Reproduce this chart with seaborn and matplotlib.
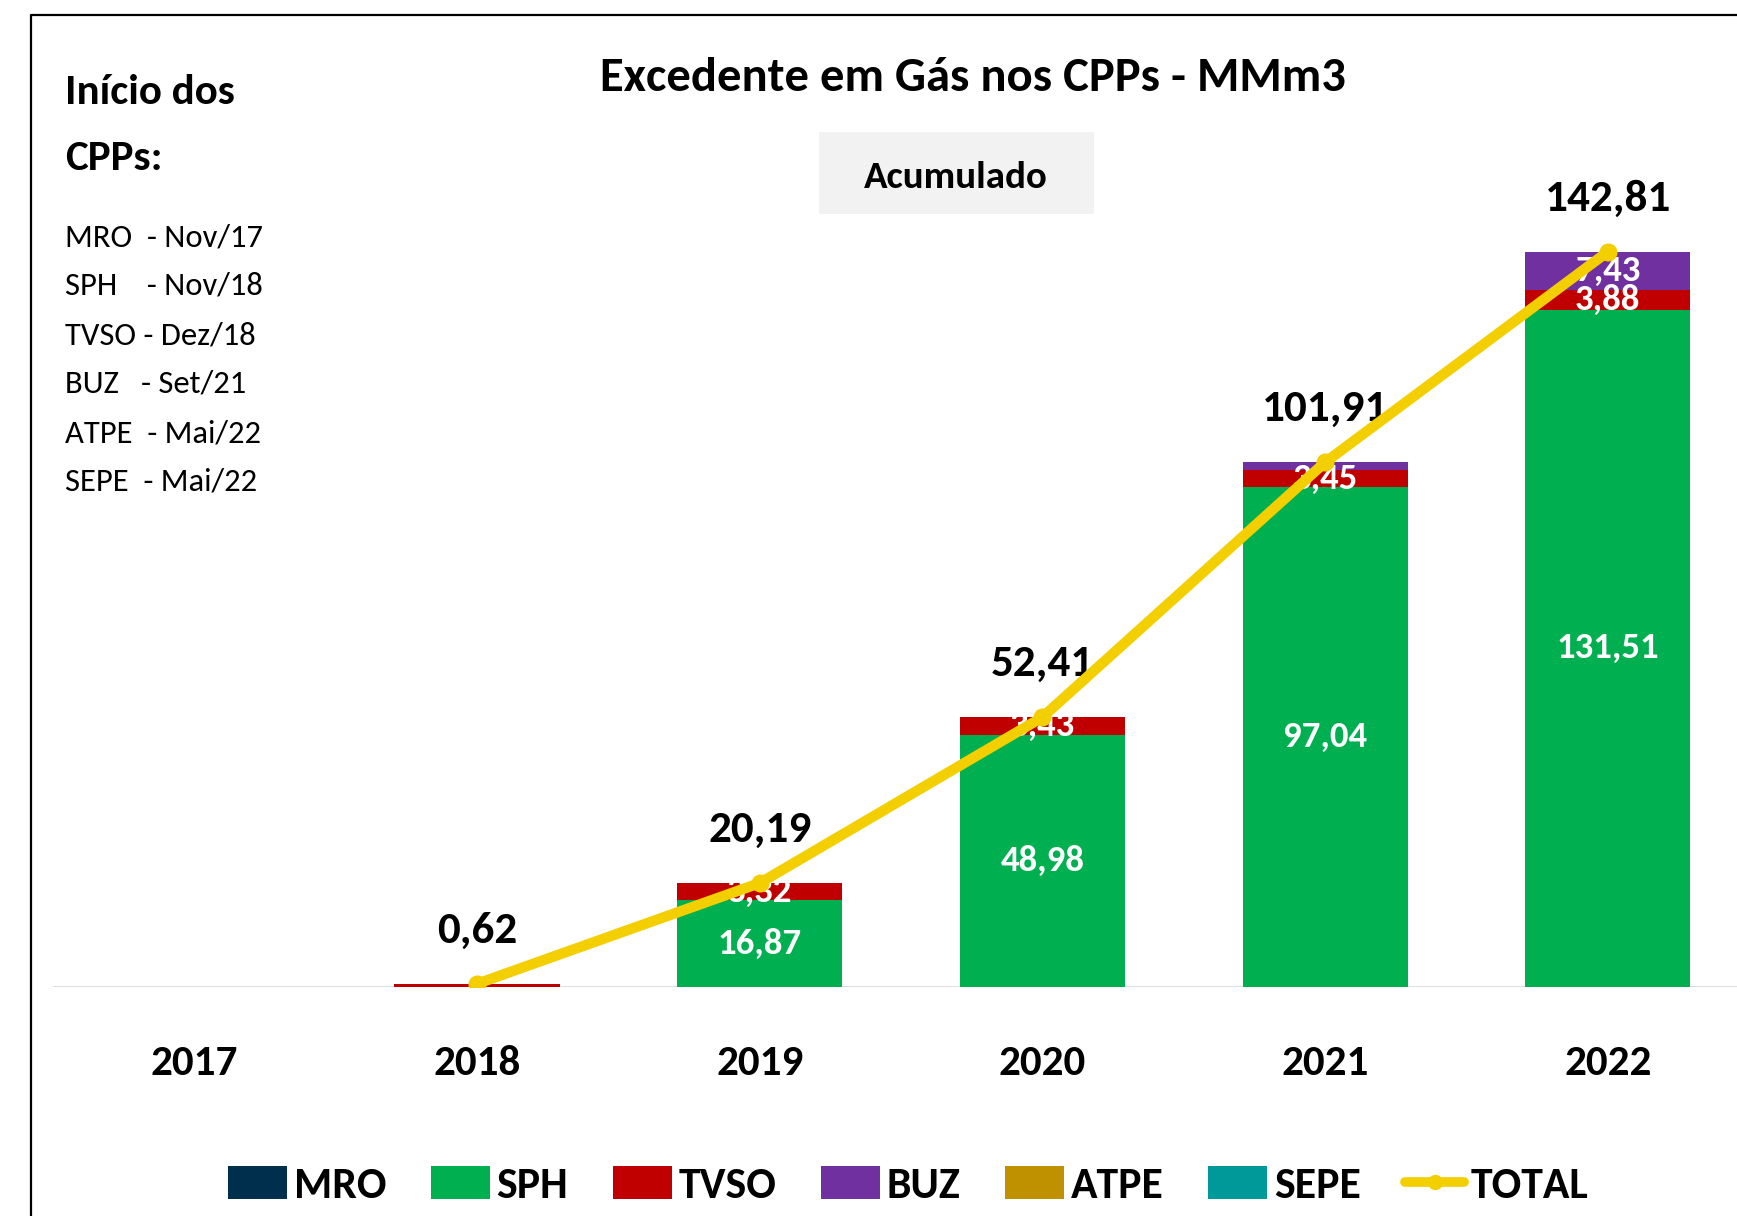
import matplotlib

matplotlib.use("Agg")
import matplotlib.pyplot as plt
import numpy as np
import seaborn as sns
from matplotlib.lines import Line2D
from matplotlib.patches import Patch, Rectangle

# Accumulated gas surplus per CPP (MMm3)
YEARS = ["2017", "2018", "2019", "2020", "2021", "2022"]
MRO = [0, 0, 0, 0, 0, 0]
SPH = [0, 0, 16.87, 48.98, 97.04, 131.51]
TVSO = [0, 0.62, 3.32, 3.43, 3.45, 3.88]
BUZ = [0, 0, 0, 0, 1.42, 7.43]
ATPE = [0, 0, 0, 0, 0, 0]
SEPE = [0, 0, 0, 0, 0, 0]
TOTAL = [np.nan, 0.62, 20.19, 52.41, 101.91, 142.81]

SERIES = ["MRO", "SPH", "TVSO", "BUZ", "ATPE", "SEPE"]
START_DATES = [
    "MRO  - Nov/17",
    "SPH    - Nov/18",
    "TVSO - Dez/18",
    "BUZ   - Set/21",
    "ATPE  - Mai/22",
    "SEPE  - Mai/22",
]

COLORS = {
    "MRO": "#002F4E",
    "SPH": "#00B050",
    "TVSO": "#C00000",
    "BUZ": "#7030A0",
    "ATPE": "#BF9000",
    "SEPE": "#009999",
}
GOLD = "#F4CF00"
W, H = 1737, 1216


def fmt(v):
    return f"{v:.2f}".replace(".", ",")


sns.set_theme(style="white")
plt.rcParams["font.family"] = ["Carlito", "Archivo Narrow", "Liberation Sans", "DejaVu Sans"]
plt.rcParams["text.color"] = "black"
plt.rcParams["xtick.color"] = "black"

fig = plt.figure(figsize=(W / 100, H / 100), dpi=100)
ax = fig.add_axes([53 / W, (H - 987) / H, 1 - 53 / W, 972 / H])

values = {"MRO": MRO, "SPH": SPH, "TVSO": TVSO, "BUZ": BUZ, "ATPE": ATPE, "SEPE": SEPE}
cum = np.cumsum([values[s] for s in SERIES], axis=0)

# stacked bars: draw cumulative heights from the top series down
for k in reversed(range(len(SERIES))):
    name = SERIES[k]
    if not np.any(values[name]):
        continue
    sns.barplot(x=YEARS, y=cum[k], color=COLORS[name], saturation=1,
                width=0.584, errorbar=None, linewidth=0, zorder=2, ax=ax)

# segment labels (white, centred in segment)
for k, name in enumerate(SERIES):
    for i, v in enumerate(values[name]):
        if v >= 3:
            ax.text(i, cum[k][i] - v / 2, fmt(v), ha="center", va="center",
                    color="white", fontsize=26.5, fontweight="bold", zorder=3)

ax.axhline(0, color="#D9D9D9", lw=2, zorder=1)

xs = np.arange(len(YEARS))
ax.plot(xs, TOTAL, color=GOLD, lw=7.5, marker="o", ms=12, zorder=5,
        solid_capstyle="round")

for i, t in enumerate(TOTAL):
    if np.isnan(t):
        continue
    ax.annotate(fmt(t), (i, t), xytext=(0, 53), textcoords="offset pixels",
                ha="center", va="center", fontsize=32.5, fontweight="bold", zorder=4)

ax.set_xlim(-0.5, 5.457)
ax.set_ylim(0, 188.8)
ax.set_xlabel("")
ax.set_ylabel("")
ax.set_yticks([])
ax.tick_params(axis="x", length=0, pad=42, labelsize=31)
for lab in ax.get_xticklabels():
    lab.set_fontweight("bold")
sns.despine(ax=ax, left=True, bottom=True)

# frame around the chart (right and bottom edges fall outside the picture)
fig.add_artist(Line2D([31 / W, 31 / W], [0, 1 - 15 / H], transform=fig.transFigure,
                      color="black", lw=1.6))
fig.add_artist(Line2D([31 / W, 1], [1 - 15 / H, 1 - 15 / H], transform=fig.transFigure,
                      color="black", lw=1.6))

fig.text(973 / W, 1 - 78 / H, "Excedente em Gás nos CPPs - MMm3", ha="center",
         va="center", fontsize=35, fontweight="bold")
fig.add_artist(Rectangle((819 / W, 1 - 214 / H), 275 / W, 82 / H,
                         transform=fig.transFigure, facecolor="#F2F2F2", edgecolor="none"))
fig.text(956 / W, 1 - 177 / H, "Acumulado", ha="center", va="center",
         fontsize=28, fontweight="bold")

fig.text(65 / W, 1 - 93 / H, "Início dos", ha="left", va="center",
         fontsize=31, fontweight="bold")
fig.text(65 / W, 1 - 159 / H, "CPPs:", ha="left", va="center",
         fontsize=31, fontweight="bold")
for j, line in enumerate(START_DATES):
    fig.text(65 / W, 1 - (237 + 49 * j) / H, line, ha="left", va="center", fontsize=23.5)

handles = [Patch(facecolor=COLORS[s], edgecolor="none", label=s) for s in SERIES]
handles.append(Line2D([], [], color=GOLD, lw=7, marker="o", ms=10, label="TOTAL"))
fig.legend(handles=handles, loc="center", bbox_to_anchor=(0.523, 0.025), ncol=7,
           frameon=False, prop={"weight": "bold", "size": 31.5}, handlelength=1.35,
           handleheight=0.75, handletextpad=0.15, columnspacing=1.02)

fig.savefig("out.png", dpi=100)
